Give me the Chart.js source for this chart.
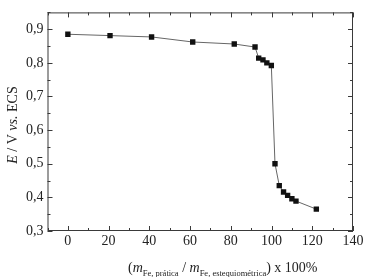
<!DOCTYPE html>
<html>
<head>
<meta charset="utf-8">
<script src="https://cdn.jsdelivr.net/npm/chart.js@4/dist/chart.umd.min.js"></script>
<style>
  html, body { margin: 0; padding: 0; background: #fff; }
  #wrap { width: 366px; height: 277px; position: relative; }
</style>
</head>
<body>
<div id="wrap"><canvas id="c"></canvas></div>
<script>
// razão mássica Fe prática / estequiométrica (%) e potencial (V vs. ECS)
const ratioPct = [0, 20.7, 41.1, 61.3, 81.7, 91.9, 93.7, 95.8, 97.7, 99.9,
                  101.7, 103.8, 105.9, 107.9, 110, 112, 122];
const potential = [0.885, 0.881, 0.877, 0.862, 0.856, 0.847, 0.814, 0.809, 0.800, 0.792,
                   0.500, 0.435, 0.416, 0.406, 0.396, 0.389, 0.365];

const xTicks = [0, 20, 40, 60, 80, 100, 120, 140];
const yTicks = [0.3, 0.4, 0.5, 0.6, 0.7, 0.8, 0.9];

const SERIF = '"Liberation Serif", "DejaVu Serif", serif';
const INK = '#3a3a3a';

// caixa fechada + marcas para dentro (maiores e menores), e títulos com itálico/subscrito
const frame = {
  id: 'frame',
  afterDraw(chart) {
    const { ctx, chartArea: a, scales: { x, y } } = chart;
    ctx.save();
    ctx.strokeStyle = INK;
    ctx.lineWidth = 1;
    ctx.strokeRect(a.left + 0.5, a.top + 0.5, a.right - a.left - 1, a.bottom - a.top - 1);

    ctx.beginPath();
    for (let v = -10; v <= 140; v += 10) {
      const px = Math.round(x.getPixelForValue(v)) + 0.5;
      const len = v % 20 === 0 ? 5 : 3;
      ctx.moveTo(px, a.bottom); ctx.lineTo(px, a.bottom - len);
      ctx.moveTo(px, a.top);    ctx.lineTo(px, a.top + len);
    }
    for (let k = 6; k <= 19; k++) {
      const v = k * 0.05;
      const py = Math.round(y.getPixelForValue(v)) + 0.5;
      const len = k % 2 === 0 ? 5 : 3;
      ctx.moveTo(a.left, py);  ctx.lineTo(a.left + len, py);
      ctx.moveTo(a.right, py); ctx.lineTo(a.right - len, py);
    }
    ctx.stroke();

    // título do eixo x
    ctx.fillStyle = '#222';
    ctx.textBaseline = 'alphabetic';
    ctx.textAlign = 'left';
    const base = 272, sub = 276;
    const parts = [
      ['(', '14px', 'normal', base],
      ['m', '14px', 'italic', base],
      ['Fe, prática', '8.5px', 'normal', sub],
      [' / ', '14px', 'normal', base],
      ['m', '14px', 'italic', base],
      ['Fe, estequiométrica', '8.5px', 'normal', sub],
      [') x 100%', '14px', 'normal', base],
    ];
    let cx = 128;
    for (const [t, size, style, by] of parts) {
      ctx.font = `${style} ${size} ${SERIF}`;
      ctx.fillText(t, cx, by);
      cx += ctx.measureText(t).width;
    }

    // título do eixo y
    ctx.translate(17, 125);
    ctx.rotate(-Math.PI / 2);
    const yParts = [
      ['E', 'italic'], [' / V ', 'normal'], ['vs.', 'italic'], [' ECS', 'normal'],
    ];
    let total = 0;
    for (const [t, st] of yParts) { ctx.font = `${st} 14px ${SERIF}`; total += ctx.measureText(t).width; }
    let yx = -total / 2;
    for (const [t, st] of yParts) {
      ctx.font = `${st} 14px ${SERIF}`;
      ctx.fillText(t, yx, 0);
      yx += ctx.measureText(t).width;
    }
    ctx.restore();
  },
};

new Chart(document.getElementById('c'), {
  type: 'scatter',
  data: {
    datasets: [{
      data: ratioPct.map((v, i) => ({ x: v, y: potential[i] })),
      showLine: true,
      borderColor: '#666',
      borderWidth: 1,
      pointStyle: 'rect',
      pointRadius: 3.8,
      pointBackgroundColor: '#111',
      pointBorderColor: '#111',
      pointBorderWidth: 0,
    }],
  },
  options: {
    responsive: true, maintainAspectRatio: false, animation: false,
    devicePixelRatio: 1,
    layout: { padding: { left: 0, top: 7, right: 13, bottom: 0 } },
    plugins: { legend: { display: false }, tooltip: { enabled: false } },
    scales: {
      x: {
        type: 'linear', min: -10, max: 140,
        grid: { display: false, drawTicks: false }, border: { display: false },
        afterBuildTicks: s => { s.ticks = xTicks.map(v => ({ value: v })); },
        afterFit: s => { s.height = 46; },
        ticks: { padding: 2, color: '#222', font: { family: SERIF, size: 14 } },
      },
      y: {
        type: 'linear', min: 0.3, max: 0.95,
        grid: { display: false, drawTicks: false }, border: { display: false },
        afterBuildTicks: s => { s.ticks = yTicks.map(v => ({ value: v })); },
        afterFit: s => { s.width = 47.5; },
        ticks: {
          padding: 4, color: '#222', font: { family: SERIF, size: 14 },
          callback: v => v.toFixed(1).replace('.', ','),
        },
      },
    },
  },
  plugins: [frame],
});
</script>
</body>
</html>
